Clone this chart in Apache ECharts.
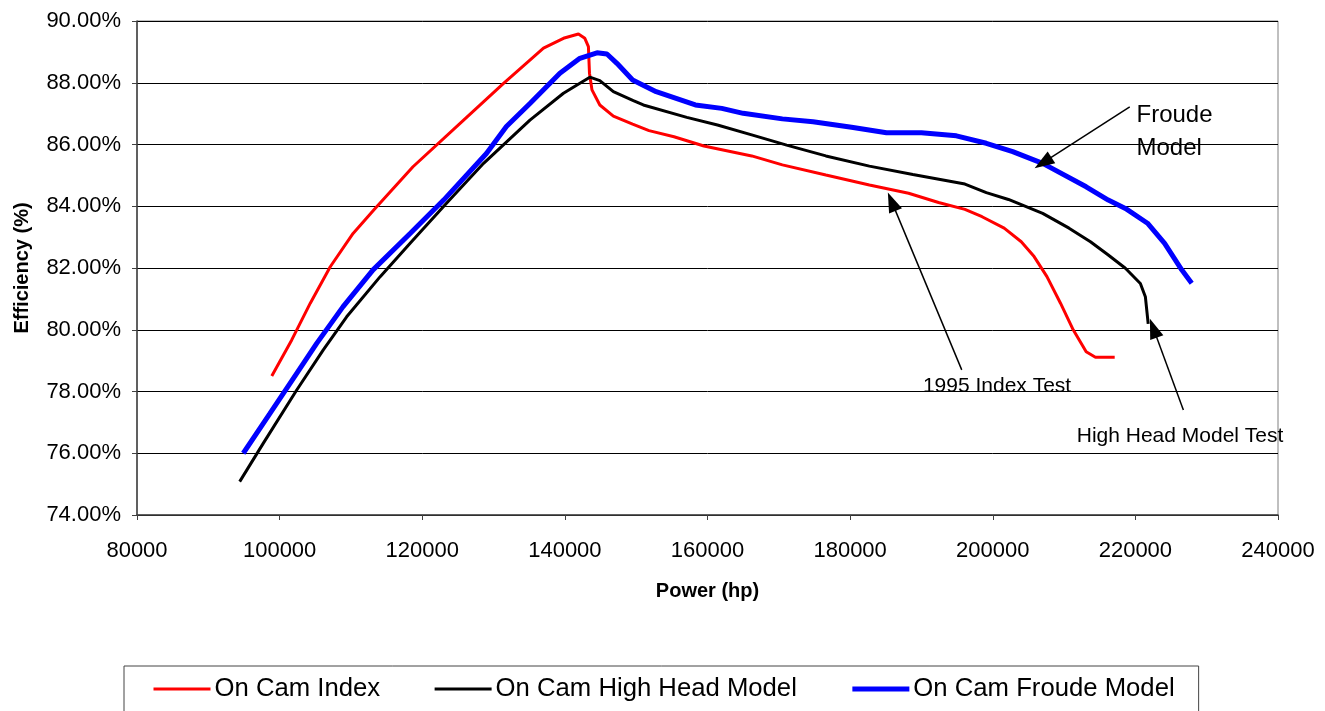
<!DOCTYPE html>
<html><head><meta charset="utf-8">
<script src="https://cdn.jsdelivr.net/npm/echarts@6/dist/echarts.min.js"></script>
<style>html,body{margin:0;padding:0;background:#fff}#c{width:1325px;height:711px}</style>
</head><body><div id="c"></div>
<script>
const seriesNames = ['On Cam Index', 'On Cam High Head Model', 'On Cam Froude Model'];
const onCamIndex = [[98900,78.50],[101700,79.67],[104300,80.86],[107100,82.04],[110300,83.12],[113200,83.88],[118700,85.28],[125800,86.79],[131400,87.98],[137000,89.12],[139800,89.44],[141900,89.58],[142800,89.44],[143300,89.17],[143450,88.31],[143800,87.77],[144900,87.28],[146800,86.92],[149500,86.66],[151800,86.45],[155300,86.25],[159500,85.95],[166200,85.63],[170500,85.34],[176600,85.01],[182700,84.69],[188200,84.42],[192400,84.12],[196100,83.90],[198500,83.66],[201600,83.29],[204000,82.85],[205800,82.37],[207600,81.72],[209500,80.86],[211300,79.99],[213100,79.29],[214400,79.11],[217100,79.11]];
const onCamHighHead = [[94400,75.08],[97700,76.32],[102400,78.05],[106100,79.34],[109400,80.42],[114100,81.72],[118300,82.80],[123400,84.10],[128600,85.39],[135100,86.79],[139800,87.66],[141700,87.93],[143500,88.18],[144900,88.07],[146800,87.71],[149600,87.42],[151000,87.28],[157100,86.88],[161400,86.63],[166200,86.31],[171100,85.98],[176600,85.63],[182700,85.30],[188800,85.03],[196100,84.72],[199100,84.44],[202200,84.22],[207000,83.77],[210700,83.29],[213700,82.85],[216200,82.42],[218600,81.99],[220700,81.50],[221400,81.07],[221800,80.19]];
const onCamFroude = [[94900,76.00],[98650,77.29],[102400,78.59],[105200,79.56],[108900,80.75],[113100,81.94],[118300,83.12],[123000,84.20],[129000,85.71],[131800,86.58],[135100,87.33],[139300,88.31],[142100,88.79],[144500,88.97],[145900,88.93],[147300,88.63],[149500,88.09],[152800,87.71],[158300,87.28],[162000,87.17],[165000,87.01],[170500,86.83],[174800,86.74],[180200,86.56],[185100,86.38],[190000,86.38],[194900,86.28],[199100,86.04],[202800,85.77],[207000,85.39],[213100,84.63],[216200,84.20],[218600,83.93],[221700,83.45],[224100,82.80],[226500,81.94],[227900,81.51]];
const annotationTexts = ['Froude\nModel', '1995 Index Test', 'High Head Model Test'];
const annotationTextAt = [[220090,86.42],[200600,78.16],[226260,76.54]];
const arrows = [[[219210,87.22],[207050,85.41]],[[195650,78.70],[185830,84.15]],[[226730,77.40],[222520,80.05]]];
const xMin = 80000, xMax = 240000, xStep = 20000;
const yMin = 74, yMax = 90, yStep = 2;

const FONT = '"Liberation Sans", Arial, Helvetica, sans-serif';
const chart = echarts.init(document.getElementById('c'), null, {renderer:'canvas'});

const markLineData = arrows.map(a => [{coord:a[0]},{coord:a[1]}]);
const markPointData = annotationTexts.map((t,i) => ({
  coord: annotationTextAt[i], value: t,
  label: i === 0
    ? {show:true, formatter:t, position:'right', distance:0, align:'left', fontSize:24, lineHeight:33, color:'#000', fontFamily:FONT}
    : {show:true, formatter:t, position:'inside', fontSize:21, color:'#000', fontFamily:FONT}
}));
const lineWidths = [3, 3, 5];

chart.setOption({
  animation:false,
  backgroundColor:'#fff',
  textStyle:{fontFamily:FONT},
  grid:{left:137, right:47, top:21, bottom:196, outerBoundsMode:'none', containLabel:false, show:true, borderColor:'#808080', borderWidth:1, backgroundColor:'#fff'},
  xAxis:{type:'value', min:xMin, max:xMax, interval:xStep,
    name:'Power (hp)', nameLocation:'middle', nameGap:66,
    nameTextStyle:{fontSize:20, fontWeight:'bold', color:'#000', fontFamily:FONT},
    axisLine:{show:true, onZero:false, lineStyle:{color:'#404040', width:1.5}},
    axisTick:{show:true, length:5, lineStyle:{color:'#404040'}},
    axisLabel:{fontSize:22, color:'#000', margin:25, fontFamily:FONT, formatter:v=>String(v)},
    splitLine:{show:false}},
  yAxis:{type:'value', min:yMin, max:yMax, interval:yStep,
    name:'Efficiency (%)', nameLocation:'middle', nameGap:105,
    nameTextStyle:{fontSize:20, fontWeight:'bold', color:'#000', fontFamily:FONT},
    axisLine:{show:true, lineStyle:{color:'#404040', width:1.5}},
    axisTick:{show:true, length:5, lineStyle:{color:'#404040'}},
    axisLabel:{fontSize:22, color:'#000', margin:16, fontFamily:FONT, formatter:v=>v.toFixed(2)+'%'},
    splitLine:{show:true, lineStyle:{color:'#000', width:1}}},
  legend:{show:true, left:124, top:666, orient:'horizontal',
    data:seriesNames.map((n,i)=>({name:n, lineStyle:{width:lineWidths[i]}, itemStyle:{opacity:0}})),
    itemWidth:57, itemHeight:4, itemGap:53,
    itemStyle:{opacity:0},
    padding:[10,24,34,28],
    borderColor:'#444', borderWidth:1, backgroundColor:'#fff',
    textStyle:{fontSize:25.7, color:'#000', fontFamily:FONT, padding:[0,0,0,-1]}},
  series:[
    {name:seriesNames[0], type:'line', data:onCamIndex, symbol:'none', lineStyle:{color:'#ff0000', width:lineWidths[0]}, itemStyle:{color:'#ff0000'}, z:3},
    {name:seriesNames[1], type:'line', data:onCamHighHead, symbol:'none', lineStyle:{color:'#000000', width:lineWidths[1]}, itemStyle:{color:'#000000'}, z:3},
    {name:seriesNames[2], type:'line', data:onCamFroude, symbol:'none', lineStyle:{color:'#0000ff', width:lineWidths[2]}, itemStyle:{color:'#0000ff'}, z:4,
      markLine:{silent:true, symbol:['none','triangle'], symbolSize:[14,20], lineStyle:{color:'#000', width:1.5, type:'solid'}, label:{show:false}, emphasis:{disabled:true}, data:markLineData, animation:false},
      markPoint:{silent:true, symbol:'circle', symbolSize:1, itemStyle:{color:'rgba(0,0,0,0)'}, data:markPointData, animation:false}}
  ]
});
</script></body></html>
